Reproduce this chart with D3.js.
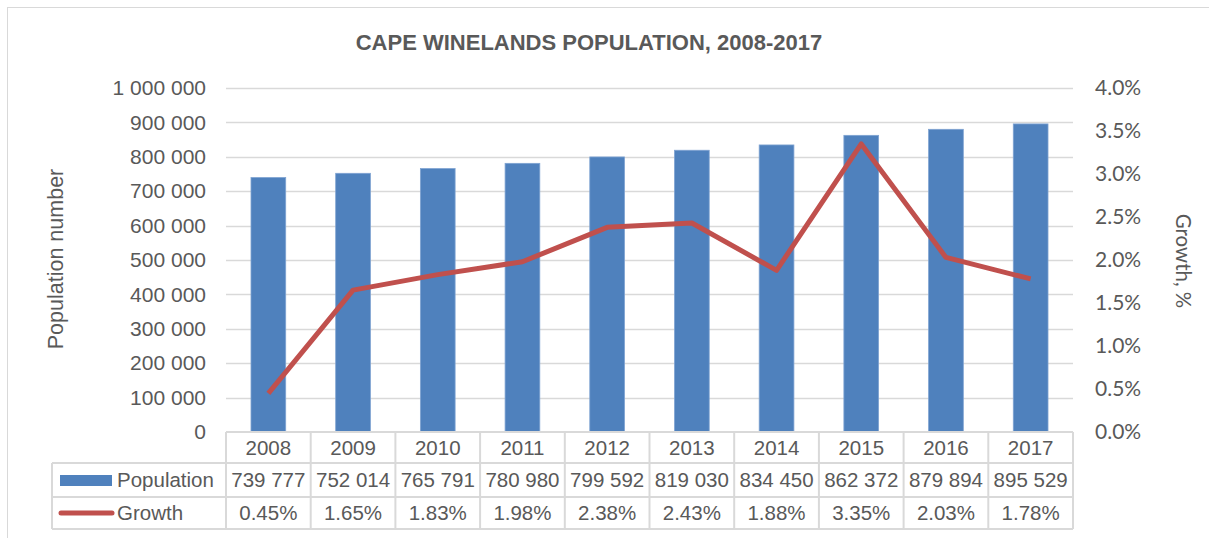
<!DOCTYPE html>
<html>
<head>
<meta charset="utf-8">
<script src="https://cdn.jsdelivr.net/npm/d3@7"></script>
<style>
  body { margin: 0; background: #fff; }
  svg { display: block; }
</style>
</head>
<body>
<div id="chart"></div>
<script>
// chart data
const years = ['2008', '2009', '2010', '2011', '2012', '2013', '2014', '2015', '2016', '2017'];
const population = [739777, 752014, 765791, 780980, 799592, 819030, 834450, 862372, 879894, 895529];
const growth = [0.45, 1.65, 1.83, 1.98, 2.38, 2.43, 1.88, 3.35, 2.03, 1.78];
const popTicks = [0, 100000, 200000, 300000, 400000, 500000, 600000, 700000, 800000, 900000, 1000000];
const growthTicks = [0, 0.5, 1, 1.5, 2, 2.5, 3, 3.5, 4];

const WIDTH = 1209, HEIGHT = 538;
const MARGINS = { top: 88, left: 226, right: 1073, bottom: 432 };
const ROW_H = [31, 34, 32];

const BLUE = '#4f81bd', RED = '#c0504d', GRID = '#d9d9d9', TEXT = '#595959';
const ARIAL = "'Liberation Sans', Arial, sans-serif";
const CALIBRI = "Lato, 'Open Sans', sans-serif";

const svg = d3.select('#chart')
    .append('svg')
    .attr('width', WIDTH)
    .attr('height', HEIGHT);

// outer frame (only left and top visible)
svg.append('rect')
    .attr('x', 7.5).attr('y', 7.5)
    .attr('width', WIDTH + 20).attr('height', HEIGHT + 20)
    .attr('fill', '#fff')
    .attr('stroke', GRID);

const x = d3.scaleBand()
    .domain(years)
    .range([MARGINS.left, MARGINS.right]);
const yPop = d3.scaleLinear()
    .domain([0, 1000000])
    .range([MARGINS.bottom, MARGINS.top]);
const yGrowth = d3.scaleLinear()
    .domain([0, 4])
    .range([MARGINS.bottom, MARGINS.top]);

// gridlines
svg.selectAll('line.grid')
    .data(popTicks.filter(d => d > 0))
    .join('line')
        .attr('class', 'grid')
        .attr('x1', MARGINS.left)
        .attr('x2', MARGINS.right)
        .attr('y1', d => Math.round(yPop(d)) + 0.5)
        .attr('y2', d => Math.round(yPop(d)) + 0.5)
        .attr('stroke', GRID)
        .attr('stroke-width', 1.5);

// left axis
const fmtPop = d => d3.format(',')(d).replace(/,/g, ' ');
const yAxisLeft = d3.axisLeft(yPop)
    .tickValues(popTicks)
    .tickFormat(fmtPop)
    .tickSize(0)
    .tickPadding(20);
svg.append('g')
    .attr('transform', `translate(${MARGINS.left}, 0)`)
    .call(yAxisLeft)
    .call(g => g.select('.domain').remove())
    .selectAll('text')
        .attr('font-family', ARIAL)
        .attr('font-size', '21px')
        .attr('fill', TEXT);

// right axis
const yAxisRight = d3.axisRight(yGrowth)
    .tickValues(growthTicks)
    .tickFormat(d => d.toFixed(1) + '%')
    .tickSize(0)
    .tickPadding(22);
svg.append('g')
    .attr('transform', `translate(${MARGINS.right}, 0)`)
    .call(yAxisRight)
    .call(g => g.select('.domain').remove())
    .selectAll('text')
        .attr('font-family', CALIBRI)
        .attr('font-size', '21px')
        .attr('fill', TEXT);

// bars
const barW = x.bandwidth() * 0.41;
svg.selectAll('rect.bar')
    .data(population)
    .join('rect')
        .attr('class', 'bar')
        .attr('x', (d, i) => x(years[i]) + (x.bandwidth() - barW) / 2)
        .attr('y', d => yPop(d))
        .attr('width', barW)
        .attr('height', d => MARGINS.bottom - yPop(d))
        .attr('fill', BLUE)
        .attr('stroke', '#7fa3d2')
        .attr('stroke-width', 0.8);

// growth line
const line = d3.line()
    .x((d, i) => x(years[i]) + x.bandwidth() / 2)
    .y(d => yGrowth(d));
svg.append('path')
    .datum(growth)
    .attr('d', line)
    .attr('fill', 'none')
    .attr('stroke', RED)
    .attr('stroke-width', 5)
    .attr('stroke-linejoin', 'round');

// data table
const tableLeft = 52;
const rowY = [MARGINS.bottom, MARGINS.bottom + ROW_H[0], MARGINS.bottom + ROW_H[0] + ROW_H[1], MARGINS.bottom + ROW_H[0] + ROW_H[1] + ROW_H[2]];
const table = svg.append('g').attr('class', 'data-table');

// horizontal lines
table.append('line')
    .attr('x1', MARGINS.left).attr('x2', MARGINS.right)
    .attr('y1', rowY[0]).attr('y2', rowY[0]);
[1, 2, 3].forEach(r => {
    table.append('line')
        .attr('x1', tableLeft).attr('x2', MARGINS.right)
        .attr('y1', rowY[r]).attr('y2', rowY[r]);
});
// vertical lines
table.append('line')
    .attr('x1', tableLeft).attr('x2', tableLeft)
    .attr('y1', rowY[1]).attr('y2', rowY[3]);
x.domain().concat(['end']).forEach((yr, i) => {
    const xx = yr === 'end' ? MARGINS.right : x(yr);
    table.append('line')
        .attr('x1', xx).attr('x2', xx)
        .attr('y1', rowY[0]).attr('y2', rowY[3]);
});
table.selectAll('line')
    .attr('stroke', GRID)
    .attr('stroke-width', 2);

function cellText(rowIdx, values) {
    table.selectAll(null)
        .data(values)
        .join('text')
            .attr('x', (d, i) => x(years[i]) + x.bandwidth() / 2)
            .attr('y', (rowY[rowIdx] + rowY[rowIdx + 1]) / 2)
            .attr('dy', '0.35em')
            .attr('text-anchor', 'middle')
            .attr('font-family', ARIAL)
            .attr('font-size', '20.5px')
            .attr('fill', TEXT)
            .text(d => d);
}
cellText(0, years);
cellText(1, population.map(fmtPop));
cellText(2, growth.map(d => d.toFixed(2) + '%'));

// legend keys in table
table.append('rect')
    .attr('x', 60).attr('y', 475)
    .attr('width', 52).attr('height', 11)
    .attr('fill', BLUE);
table.append('line')
    .attr('x1', 61).attr('x2', 112)
    .attr('y1', (rowY[2] + rowY[3]) / 2).attr('y2', (rowY[2] + rowY[3]) / 2)
    .attr('stroke', RED)
    .attr('stroke-width', 5)
    .attr('stroke-linecap', 'round');
[['Population', 1], ['Growth', 2]].forEach(([label, r]) => {
    table.append('text')
        .attr('x', 117)
        .attr('y', (rowY[r] + rowY[r + 1]) / 2)
        .attr('dy', '0.35em')
        .attr('font-family', ARIAL)
        .attr('font-size', '20.5px')
        .attr('fill', TEXT)
        .text(label);
});

// title
svg.append('text')
    .attr('x', 589)
    .attr('y', 50)
    .attr('text-anchor', 'middle')
    .attr('font-family', ARIAL)
    .attr('font-weight', 'bold')
    .attr('font-size', '22px')
    .attr('fill', TEXT)
    .text('CAPE WINELANDS POPULATION, 2008-2017');

// axis titles
svg.append('text')
    .attr('transform', 'translate(55, 259) rotate(-90)')
    .attr('text-anchor', 'middle')
    .attr('dy', '0.35em')
    .attr('font-family', ARIAL)
    .attr('font-size', '21.5px')
    .attr('fill', TEXT)
    .text('Population number');
svg.append('text')
    .attr('transform', 'translate(1183, 261) rotate(90)')
    .attr('text-anchor', 'middle')
    .attr('dy', '0.35em')
    .attr('font-family', CALIBRI)
    .attr('font-size', '20.5px')
    .attr('fill', TEXT)
    .text('Growth, %');
</script>
</body>
</html>
